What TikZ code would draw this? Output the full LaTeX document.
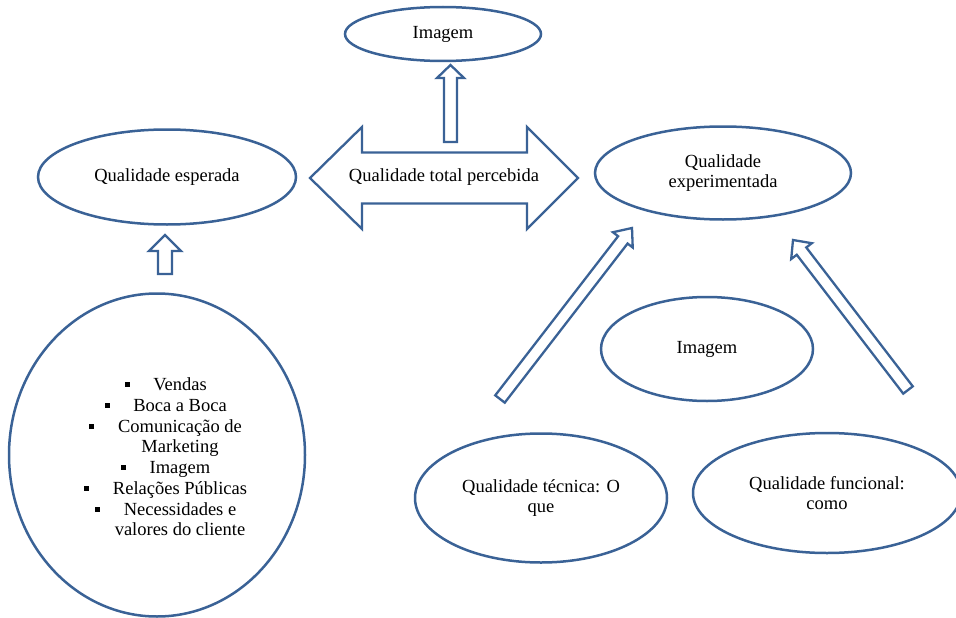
\documentclass[tikz,border=0pt]{standalone}
\usepackage{fontspec}
\setmainfont{Liberation Serif}
\usetikzlibrary{shapes.geometric,calc}

\definecolor{outline}{RGB}{58,98,150}
\newcommand{\lbl}{\fontsize{18.5}{20.7}\selectfont}

\tikzset{
  bubble/.style={ellipse, draw=outline, line width=2.5pt, inner sep=0pt,
                 align=center, font=\lbl},
  blockline/.style={draw=outline, line width=2.3pt, line join=miter, fill=white},
  bul/.style={rectangle, fill=black, minimum size=5pt, inner sep=0pt},
  listitem/.style={anchor=base, inner sep=0pt, font=\lbl},
}

% hollow block arrow from #1 (tail) to #2 (tip):
% #3 shaft half-width, #4 head half-width, #5 head length
\newcommand{\blockarrow}[5]{%
  \path ($(#2)!#5!(#1)$) coordinate (ba-m);
  \draw[blockline]
    ($(#1)!#3!90:(#2)$) -- ($(ba-m)!#3!90:(#2)$) -- ($(ba-m)!#4!90:(#2)$)
    -- (#2)
    -- ($(ba-m)!#4!-90:(#2)$) -- ($(ba-m)!#3!-90:(#2)$) -- ($(#1)!#3!-90:(#2)$)
    -- cycle;}

\begin{document}
\begin{tikzpicture}[x=1pt,y=-1pt]
\useasboundingbox (0,0) rectangle (956,618);

% ellipses
\node[bubble, minimum width=196pt, minimum height=54pt] (imgtop) at (443,34) {Imagem};
\node[bubble, minimum width=258pt, minimum height=95pt] (esp) at (167,177) {Qualidade esperada};
\node[bubble, minimum width=256pt, minimum height=93pt] (exp) at (723,173) {Qualidade\\experimentada};
\node[bubble, minimum width=212pt, minimum height=104pt] (imgmid) at (707,349) {Imagem};
\node[bubble, minimum width=252pt, minimum height=129pt] (tec) at (541,498) {Qualidade técnica: O\\que};
\node[bubble, minimum width=268pt, minimum height=120pt] (fun) at (827,493) {Qualidade funcional:\\como};
\node[bubble, minimum width=296pt, minimum height=323pt] (src) at (157,455) {};

% bulleted list inside the circle
\node[listitem] (li1) at (180,390) {Vendas};
\node[listitem] (li2) at (180,411) {Boca a Boca};
\node[listitem] (li3) at (180,432) {Comunicação de};
\node[listitem] (li4) at (180,452) {Marketing};
\node[listitem] (li5) at (180,473) {Imagem};
\node[listitem] (li6) at (180,494) {Relações Públicas};
\node[listitem] (li7) at (180,515) {Necessidades e};
\node[listitem] (li8) at (180,535) {valores do cliente};
\foreach \i in {li1,li2,li3,li5,li6,li7}
  \node[bul] at ($(\i.base west)+(-26,-6)$) {};

% central double arrow
\coordinate (dl) at (310,178);
\coordinate (dr) at (578,178);
\draw[blockline]
  (dl) -- (362,127) -- (362,152.5) -- (527,152.5) -- (527,127) -- (dr)
  -- (527,229) -- (527,203.5) -- (362,203.5) -- (362,229) -- cycle;
\node[font=\lbl, inner sep=0pt] (tot) at (444,177) {Qualidade total percebida};

% single block arrows
\coordinate (u1s) at (450.5,142);  \coordinate (u1e) at (450.5,65);
\coordinate (u2s) at (165,274);    \coordinate (u2e) at (165,235);
\coordinate (d1s) at (500,399);    \coordinate (d1e) at (632,228);
\coordinate (d2s) at (908,390);    \coordinate (d2e) at (793,240);
\blockarrow{u1s}{u1e}{6.5pt}{13.5pt}{13pt}
\blockarrow{u2s}{u2e}{7pt}{16pt}{16pt}
\blockarrow{d1s}{d1e}{6pt}{12.5pt}{15pt}
\blockarrow{d2s}{d2e}{6pt}{13pt}{14pt}
\end{tikzpicture}
\end{document}
